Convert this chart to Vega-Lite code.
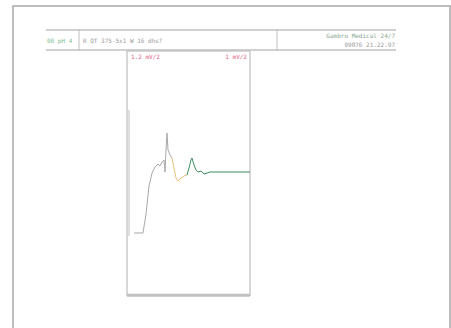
{
  "$schema": "https://vega.github.io/schema/vega-lite/v6.json",
  "autosize": {"type": "fit", "contains": "padding"},
  "width": 451,
  "height": 328,
  "padding": 0,
  "background": "white",
  "config": {"view": {"stroke": null}},
  "datasets": {
    "boxes": [
      {"name": "panel", "x1": 127, "x2": 250, "y1": 51, "y2": 296}
    ],
    "page": [
      {"name": "page", "x1": 13, "x2": 450, "y1": 6, "y2": 334}
    ],
    "rules": [
      {"name": "htop", "x1": 46, "x2": 396, "y1": 30, "y2": 30, "w": 1.5},
      {"name": "hbottom", "x1": 46, "x2": 396, "y1": 50, "y2": 50, "w": 1.5},
      {"name": "div1", "x1": 79, "x2": 79, "y1": 29, "y2": 51, "w": 1},
      {"name": "div2", "x1": 277, "x2": 277, "y1": 29, "y2": 51, "w": 1},
      {"name": "panelbottom", "x1": 127, "x2": 250, "y1": 295, "y2": 295, "w": 2.5},
      {"name": "baseline", "x1": 129, "x2": 129, "y1": 110, "y2": 236, "w": 1}
    ],
    "labelsL": [
      {"t": "00 pH 4", "x": 47, "y": 41, "c": "#7fbf8f"},
      {"t": "R QT 375-5x1 W 16 dhs?", "x": 83, "y": 41, "c": "#9a9a9a"},
      {"t": "1.2 mV/2", "x": 131, "y": 57, "c": "#e06080"}
    ],
    "labelsR": [
      {"t": "Gambro Medical 24/7", "x": 395, "y": 36, "c": "#8aa88f"},
      {"t": "09876    21.22.97", "x": 395, "y": 45, "c": "#9a9a9a"},
      {"t": "1 mV/2", "x": 247, "y": 57, "c": "#e06080"}
    ],
    "trace": [
      {"seg": "a", "i": 1, "x": 134, "y": 233},
      {"seg": "a", "i": 2, "x": 143, "y": 233},
      {"seg": "a", "i": 3, "x": 146, "y": 214},
      {"seg": "a", "i": 4, "x": 149, "y": 186},
      {"seg": "a", "i": 5, "x": 152, "y": 173},
      {"seg": "a", "i": 6, "x": 155, "y": 167},
      {"seg": "a", "i": 7, "x": 158, "y": 164},
      {"seg": "a", "i": 8, "x": 160, "y": 166},
      {"seg": "a", "i": 9, "x": 162, "y": 162},
      {"seg": "a", "i": 10, "x": 164, "y": 160},
      {"seg": "a", "i": 11, "x": 165, "y": 172},
      {"seg": "a", "i": 12, "x": 166, "y": 150},
      {"seg": "a", "i": 13, "x": 167, "y": 133},
      {"seg": "a", "i": 14, "x": 168, "y": 150},
      {"seg": "a", "i": 15, "x": 170, "y": 155},
      {"seg": "a", "i": 16, "x": 172, "y": 158},
      {"seg": "b", "i": 16, "x": 172, "y": 158},
      {"seg": "b", "i": 17, "x": 174, "y": 168},
      {"seg": "b", "i": 18, "x": 176, "y": 178},
      {"seg": "b", "i": 19, "x": 178, "y": 181},
      {"seg": "b", "i": 20, "x": 181, "y": 178},
      {"seg": "b", "i": 21, "x": 184, "y": 176},
      {"seg": "b", "i": 22, "x": 187, "y": 175},
      {"seg": "c", "i": 22, "x": 187, "y": 175},
      {"seg": "c", "i": 23, "x": 189, "y": 168},
      {"seg": "c", "i": 24, "x": 191, "y": 160},
      {"seg": "c", "i": 25, "x": 192, "y": 158},
      {"seg": "c", "i": 26, "x": 194, "y": 165},
      {"seg": "c", "i": 27, "x": 196, "y": 170},
      {"seg": "c", "i": 28, "x": 198, "y": 172},
      {"seg": "c", "i": 29, "x": 201, "y": 171},
      {"seg": "c", "i": 30, "x": 204, "y": 174},
      {"seg": "c", "i": 31, "x": 207, "y": 173},
      {"seg": "c", "i": 32, "x": 210, "y": 172},
      {"seg": "c", "i": 33, "x": 230, "y": 172},
      {"seg": "c", "i": 34, "x": 250, "y": 172}
    ]
  },
  "layer": [
    {
      "data": {"name": "page"},
      "mark": {"type": "rect", "fill": null, "stroke": "#a8a8a8", "strokeWidth": 1.5, "clip": true},
      "encoding": {
        "x": {"field": "x1", "type": "quantitative", "scale": {"domain": [0, 451], "nice": false, "zero": false}, "axis": null},
        "x2": {"field": "x2"},
        "y": {"field": "y1", "type": "quantitative", "scale": {"domain": [0, 328], "reverse": true, "nice": false, "zero": false}, "axis": null},
        "y2": {"field": "y2"}
      }
    },
    {
      "data": {"name": "boxes"},
      "mark": {"type": "rect", "fill": null, "stroke": "#b0b0b0", "strokeWidth": 1},
      "encoding": {
        "x": {"field": "x1", "type": "quantitative"},
        "x2": {"field": "x2"},
        "y": {"field": "y1", "type": "quantitative"},
        "y2": {"field": "y2"}
      }
    },
    {
      "data": {"name": "rules"},
      "mark": {"type": "rule", "color": "#c0c0c0"},
      "encoding": {
        "x": {"field": "x1", "type": "quantitative"},
        "x2": {"field": "x2"},
        "y": {"field": "y1", "type": "quantitative"},
        "y2": {"field": "y2"},
        "strokeWidth": {"field": "w", "type": "quantitative", "scale": null}
      }
    },
    {
      "data": {"name": "labelsL"},
      "mark": {"type": "text", "fontSize": 6, "font": "DejaVu Sans Mono", "baseline": "middle", "align": "left"},
      "encoding": {
        "x": {"field": "x", "type": "quantitative"},
        "y": {"field": "y", "type": "quantitative"},
        "text": {"field": "t"},
        "color": {"field": "c", "type": "nominal", "scale": null}
      }
    },
    {
      "data": {"name": "labelsR"},
      "mark": {"type": "text", "fontSize": 6, "font": "DejaVu Sans Mono", "baseline": "middle", "align": "right"},
      "encoding": {
        "x": {"field": "x", "type": "quantitative"},
        "y": {"field": "y", "type": "quantitative"},
        "text": {"field": "t"},
        "color": {"field": "c", "type": "nominal", "scale": null}
      }
    },
    {
      "data": {"name": "trace"},
      "mark": {"type": "line", "interpolate": "linear"},
      "encoding": {
        "x": {"field": "x", "type": "quantitative"},
        "y": {"field": "y", "type": "quantitative"},
        "order": {"field": "i", "type": "quantitative"},
        "detail": {"field": "seg"},
        "color": {"field": "seg", "type": "nominal", "scale": {"domain": ["a", "b", "c"], "range": ["#a8a8a8", "#e8c27a", "#3f8f5f"]}, "legend": null},
        "strokeWidth": {"field": "seg", "type": "nominal", "scale": {"domain": ["a", "b", "c"], "range": [1, 1, 1.8]}, "legend": null}
      }
    }
  ]
}
